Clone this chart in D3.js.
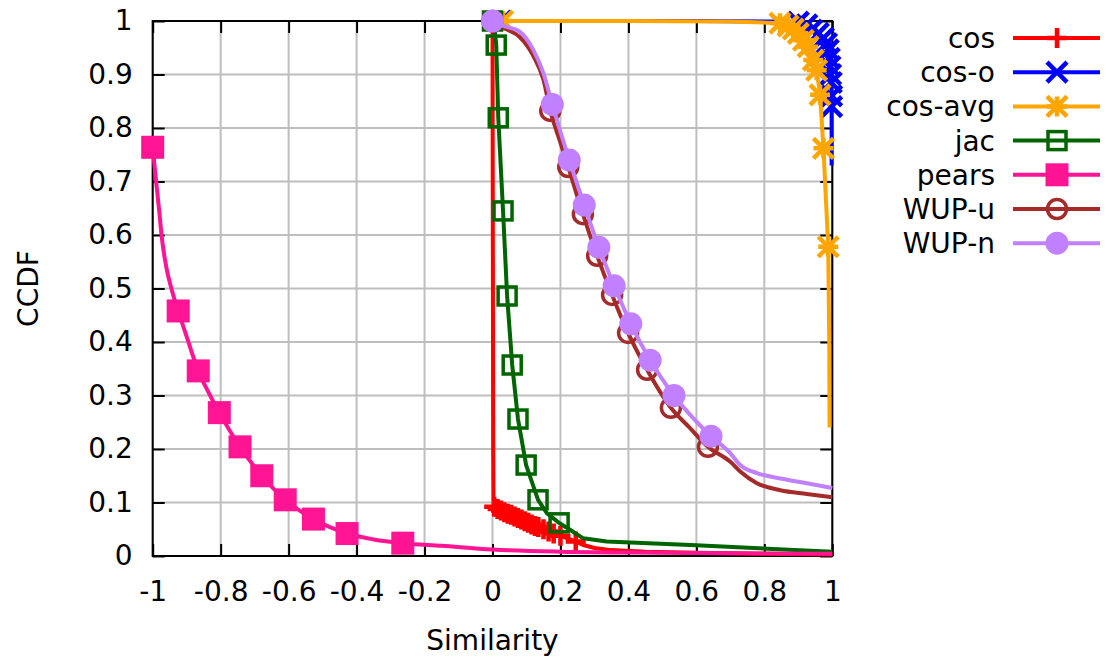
<!DOCTYPE html>
<html>
<head>
<meta charset="utf-8">
<script src="https://cdn.jsdelivr.net/npm/d3@7"></script>
<style>
  html, body { margin: 0; padding: 0; background: #fff; }
  svg { display: block; font-family: "DejaVu Sans", sans-serif; }
</style>
</head>
<body>
<svg id="chart" width="1106" height="661"></svg>
<script>
// Axis ticks
const xTicks = [-1, -0.8, -0.6, -0.4, -0.2, 0, 0.2, 0.4, 0.6, 0.8, 1];
const xTickLabels = ["-1", "-0.8", "-0.6", "-0.4", "-0.2", "0", "0.2", "0.4", "0.6", "0.8", "1"];
const yTicks = [0, 0.1, 0.2, 0.3, 0.4, 0.5, 0.6, 0.7, 0.8, 0.9, 1];
const yTickLabels = ["0", "0.1", "0.2", "0.3", "0.4", "0.5", "0.6", "0.7", "0.8", "0.9", "1"];

const seriesNames = ["cos", "cos-o", "cos-avg", "jac", "pears", "WUP-u", "WUP-n"];

// CCDF curves [similarity, ccdf] and the sampled points that carry markers
const cosCurve = [[0, 1], [0.001, 0.6], [0.002, 0.2], [0.003, 0.092], [0.010, 0.090], [0.020, 0.087],
  [0.030, 0.084], [0.040, 0.081], [0.050, 0.078], [0.060, 0.075], [0.070, 0.072], [0.080, 0.069],
  [0.090, 0.066], [0.100, 0.063], [0.110, 0.061], [0.120, 0.058], [0.130, 0.055], [0.140, 0.052],
  [0.155, 0.048], [0.170, 0.045], [0.185, 0.041], [0.200, 0.038], [0.245, 0.027], [0.270, 0.020],
  [0.300, 0.015], [0.350, 0.011], [0.450, 0.008], [0.600, 0.006], [0.800, 0.004], [1.0, 0.003]];
const cosMarks = [[0, 1], [0.005, 0.092], [0.015, 0.088], [0.025, 0.085], [0.035, 0.082], [0.045, 0.079],
  [0.055, 0.077], [0.065, 0.074], [0.075, 0.071], [0.085, 0.068], [0.095, 0.065], [0.105, 0.062],
  [0.115, 0.059], [0.125, 0.056], [0.135, 0.054], [0.150, 0.050], [0.165, 0.046], [0.180, 0.042],
  [0.200, 0.038], [0.245, 0.027]];

const cosOCurve = [[0.025, 1], [0.3, 1], [0.6, 1], [0.85, 0.999], [0.90, 0.998], [0.925, 0.993],
  [0.939, 0.983], [0.959, 0.977], [0.974, 0.968], [0.983, 0.958], [0.988, 0.946], [0.991, 0.930],
  [0.993, 0.915], [0.995, 0.900], [0.997, 0.885], [0.998, 0.860], [0.998, 0.840], [0.998, 0.800],
  [0.998, 0.730]];
const cosOMarks = [[0.025, 1], [0.90, 0.998], [0.925, 0.993], [0.939, 0.983], [0.959, 0.977],
  [0.974, 0.968], [0.983, 0.958], [0.988, 0.946], [0.991, 0.930], [0.993, 0.915], [0.995, 0.900],
  [0.997, 0.885], [0.998, 0.860], [0.998, 0.840]];

const cosAvgCurve = [[0.03, 1], [0.4, 1], [0.7, 0.999], [0.846, 0.996], [0.870, 0.991], [0.885, 0.985],
  [0.900, 0.977], [0.915, 0.964], [0.929, 0.952], [0.944, 0.927], [0.954, 0.908], [0.964, 0.862],
  [0.974, 0.762], [0.988, 0.578], [0.991, 0.400], [0.992, 0.240]];
const cosAvgMarks = [[0.03, 1], [0.846, 0.996], [0.870, 0.991], [0.885, 0.985], [0.900, 0.977],
  [0.915, 0.964], [0.929, 0.952], [0.944, 0.927], [0.954, 0.908], [0.964, 0.862], [0.974, 0.762],
  [0.988, 0.578]];

const jacCurve = [[0, 1], [0.006, 0.985], [0.011, 0.955], [0.017, 0.819], [0.031, 0.645], [0.043, 0.486],
  [0.058, 0.357], [0.075, 0.256], [0.099, 0.170], [0.134, 0.105], [0.160, 0.080], [0.196, 0.062],
  [0.228, 0.049], [0.267, 0.033], [0.336, 0.027], [0.600, 0.020], [1.0, 0.008]];
const jacMarks = [[0, 1], [0.011, 0.955], [0.017, 0.819], [0.031, 0.645], [0.043, 0.486], [0.058, 0.357],
  [0.075, 0.256], [0.099, 0.170], [0.134, 0.105], [0.196, 0.062]];

const pearsCurve = [[-1.0, 0.764], [-0.99, 0.70], [-0.98, 0.64], [-0.974, 0.60], [-0.96, 0.54],
  [-0.945, 0.50], [-0.925, 0.458], [-0.90, 0.41], [-0.866, 0.346], [-0.835, 0.305], [-0.804, 0.268],
  [-0.743, 0.204], [-0.679, 0.150], [-0.610, 0.105], [-0.527, 0.069], [-0.428, 0.042], [-0.350, 0.031],
  [-0.264, 0.024], [-0.150, 0.019], [0, 0.012], [0.2, 0.008], [0.5, 0.006], [1.0, 0.004]];
const pearsMarks = [[-1.0, 0.764], [-0.925, 0.458], [-0.866, 0.346], [-0.804, 0.268], [-0.743, 0.204],
  [-0.679, 0.150], [-0.610, 0.105], [-0.527, 0.069], [-0.428, 0.042], [-0.264, 0.024]];

const wupUCurve = [[0, 1], [0.04, 0.985], [0.08, 0.97], [0.12, 0.935], [0.15, 0.89], [0.170, 0.832],
  [0.196, 0.78], [0.223, 0.727], [0.266, 0.639], [0.308, 0.561], [0.352, 0.488], [0.399, 0.417],
  [0.455, 0.348], [0.525, 0.277], [0.580, 0.240], [0.634, 0.204], [0.700, 0.176], [0.729, 0.158],
  [0.778, 0.136], [0.847, 0.123], [0.925, 0.116], [1.0, 0.110]];
const wupUMarks = [[0, 1], [0.170, 0.832], [0.223, 0.727], [0.266, 0.639], [0.308, 0.561], [0.352, 0.488],
  [0.399, 0.417], [0.455, 0.348], [0.525, 0.277], [0.634, 0.204]];

const wupNCurve = [[0, 1], [0.037, 0.99], [0.08, 0.98], [0.12, 0.946], [0.15, 0.902], [0.176, 0.844],
  [0.226, 0.740], [0.270, 0.656], [0.313, 0.577], [0.358, 0.505], [0.407, 0.434], [0.464, 0.366],
  [0.534, 0.300], [0.643, 0.224], [0.700, 0.192], [0.729, 0.170], [0.778, 0.155], [0.847, 0.145],
  [0.925, 0.136], [1.0, 0.127]];
const wupNMarks = [[0, 1], [0.176, 0.844], [0.226, 0.740], [0.270, 0.656], [0.313, 0.577], [0.358, 0.505],
  [0.407, 0.434], [0.464, 0.366], [0.534, 0.300], [0.643, 0.224]];

// Styles per series
const styles = [
  { name: seriesNames[0], curve: cosCurve, marks: cosMarks, color: "#ff0000", shape: "plus" },
  { name: seriesNames[1], curve: cosOCurve, marks: cosOMarks, color: "#0000ff", shape: "cross" },
  { name: seriesNames[2], curve: cosAvgCurve, marks: cosAvgMarks, color: "#ffa500", shape: "star" },
  { name: seriesNames[3], curve: jacCurve, marks: jacMarks, color: "#006400", shape: "squareOpen" },
  { name: seriesNames[4], curve: pearsCurve, marks: pearsMarks, color: "#ff1493", shape: "squareFilled", smooth: true },
  { name: seriesNames[5], curve: wupUCurve, marks: wupUMarks, color: "#a52a2a", shape: "circleOpen", smooth: true },
  { name: seriesNames[6], curve: wupNCurve, marks: wupNMarks, color: "#c080ff", shape: "circleFilled", smooth: true }
];

const plot = { left: 152.7, right: 832.3, top: 21, bottom: 556 };
const x = d3.scaleLinear().domain([-1, 1]).range([plot.left, plot.right]);
const y = d3.scaleLinear().domain([0, 1]).range([plot.bottom, plot.top]);

const svg = d3.select("#chart");
const FONT = 28;
const TICK = 12;

// grid
const grid = svg.append("g").attr("stroke", "#bebebe").attr("stroke-width", 2);
xTicks.forEach(t => grid.append("line").attr("x1", x(t)).attr("x2", x(t)).attr("y1", plot.top).attr("y2", plot.bottom));
yTicks.forEach(t => grid.append("line").attr("y1", y(t)).attr("y2", y(t)).attr("x1", plot.left).attr("x2", plot.right));

// axes: inward ticks on all four sides, labels on bottom and left
const xAxisB = d3.axisBottom(x).tickValues(xTicks).tickSizeInner(-TICK).tickSizeOuter(0)
  .tickFormat((d, i) => xTickLabels[i]).tickPadding(25);
const xAxisT = d3.axisTop(x).tickValues(xTicks).tickSizeInner(-TICK).tickSizeOuter(0).tickFormat("");
const yAxisL = d3.axisLeft(y).tickValues(yTicks).tickSizeInner(-TICK).tickSizeOuter(0)
  .tickFormat((d, i) => yTickLabels[i]).tickPadding(20);
const yAxisR = d3.axisRight(y).tickValues(yTicks).tickSizeInner(-TICK).tickSizeOuter(0).tickFormat("");

function styleAxis(g) {
  g.select(".domain").remove();
  g.selectAll(".tick line").attr("stroke", "#000").attr("stroke-width", 2);
  g.selectAll(".tick text").attr("fill", "#000").style("font-size", FONT + "px")
    .style("font-family", "DejaVu Sans, sans-serif");
}
svg.append("g").attr("transform", `translate(0,${plot.bottom})`).call(xAxisB).call(styleAxis);
svg.append("g").attr("transform", `translate(0,${plot.top})`).call(xAxisT).call(styleAxis);
svg.append("g").attr("transform", `translate(${plot.left},0)`).call(yAxisL).call(styleAxis);
svg.append("g").attr("transform", `translate(${plot.right},0)`).call(yAxisR).call(styleAxis);

// border
svg.append("rect").attr("x", plot.left).attr("y", plot.top)
  .attr("width", plot.right - plot.left).attr("height", plot.bottom - plot.top)
  .attr("fill", "none").attr("stroke", "#000").attr("stroke-width", 2);

// marker shapes
function markerPath(shape) {
  const s = 10;
  switch (shape) {
    case "plus": return `M${-s},0H${s}M0,${-s}V${s}`;
    case "cross": return `M${-s},${-s}L${s},${s}M${-s},${s}L${s},${-s}`;
    case "star": return `M${-s},0H${s}M0,${-s}V${s}M${-s},${-s}L${s},${s}M${-s},${s}L${s},${-s}`;
    default: return null;
  }
}
function drawMarker(g, shape, color, px, py) {
  const p = markerPath(shape);
  if (p) {
    g.append("path").attr("d", p).attr("transform", `translate(${px},${py})`)
      .attr("fill", "none").attr("stroke", color).attr("stroke-width", 4.5);
  } else if (shape === "squareOpen") {
    g.append("rect").attr("x", px - 9).attr("y", py - 9).attr("width", 18).attr("height", 18)
      .attr("fill", "none").attr("stroke", color).attr("stroke-width", 3.5);
  } else if (shape === "squareFilled") {
    g.append("rect").attr("x", px - 11.5).attr("y", py - 11.5).attr("width", 23).attr("height", 23)
      .attr("fill", color);
  } else if (shape === "circleOpen") {
    g.append("circle").attr("cx", px).attr("cy", py).attr("r", 9.5)
      .attr("fill", "none").attr("stroke", color).attr("stroke-width", 3.5);
  } else if (shape === "circleFilled") {
    g.append("circle").attr("cx", px).attr("cy", py).attr("r", 11.5).attr("fill", color);
  }
}

// series
const lineLinear = d3.line().x(d => x(d[0])).y(d => y(d[1]));
const lineSmooth = d3.line().x(d => x(d[0])).y(d => y(d[1])).curve(d3.curveMonotoneX);
const data = svg.append("g");
styles.forEach(s => {
  const g = data.append("g");
  g.append("path").attr("d", (s.smooth ? lineSmooth : lineLinear)(s.curve))
    .attr("fill", "none").attr("stroke", s.color).attr("stroke-width", 4)
    .attr("stroke-linejoin", "round");
  s.marks.forEach(m => drawMarker(g, s.shape, s.color, x(m[0]), y(m[1])));
});

// legend
const legend = svg.append("g");
const legendTop = 38, legendStep = 34.2;
styles.forEach((s, i) => {
  const cy = legendTop + i * legendStep;
  legend.append("text").attr("x", 995).attr("y", cy + 10).attr("text-anchor", "end")
    .style("font-size", FONT + "px").text(s.name);
  legend.append("line").attr("x1", 1013).attr("x2", 1100).attr("y1", cy).attr("y2", cy)
    .attr("stroke", s.color).attr("stroke-width", 4);
  drawMarker(legend, s.shape, s.color, 1057, cy);
});

// axis titles
svg.append("text").attr("x", (plot.left + plot.right) / 2).attr("y", 650)
  .attr("text-anchor", "middle").style("font-size", FONT + "px").text("Similarity");
svg.append("text").attr("transform", `translate(38,${(plot.top + plot.bottom) / 2}) rotate(-90)`)
  .attr("text-anchor", "middle").style("font-size", FONT + "px").text("CCDF");
</script>
</body>
</html>
